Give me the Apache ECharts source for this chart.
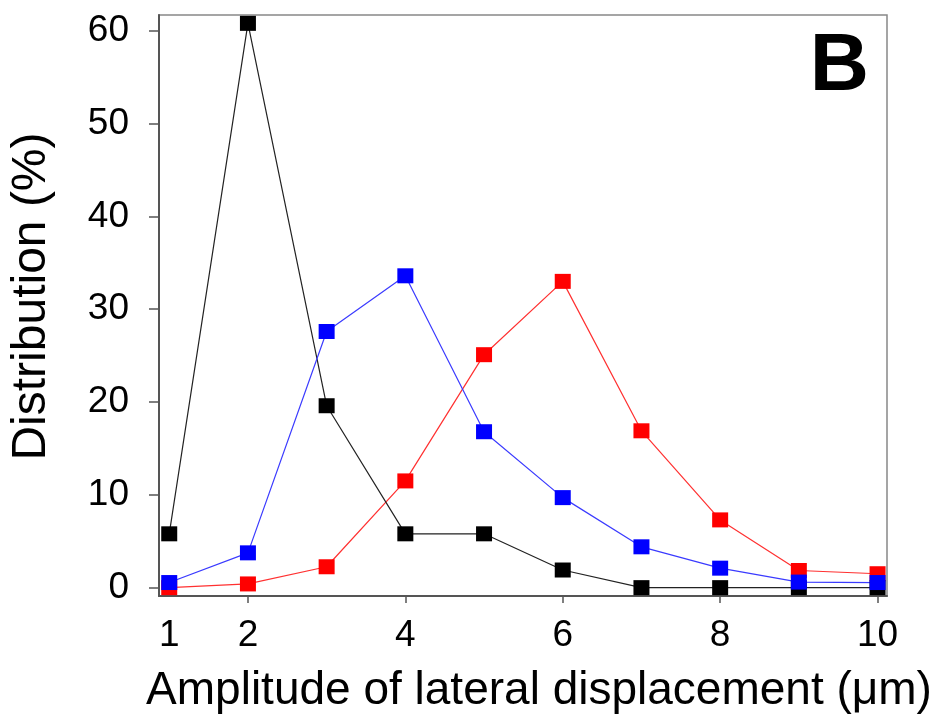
<!DOCTYPE html>
<html>
<head>
<meta charset="utf-8">
<script src="https://cdn.jsdelivr.net/npm/echarts@6/dist/echarts.min.js"></script>
<style>
html,body{margin:0;padding:0;background:#fff;}
#chart{width:938px;height:719px;}
</style>
</head>
<body>
<div id="chart"></div>
<script>
const amplitudes = [1, 2, 3, 4, 5, 6, 7, 8, 9, 10];
const blackValues = [5.8, 60.8, 19.6, 5.8, 5.8, 1.9, 0, 0, 0, 0];
const blueValues = [0.55, 3.75, 27.6, 33.6, 16.8, 9.7, 4.4, 2.1, 0.6, 0.55];
const redValues = [0, 0.4, 2.25, 11.5, 25.1, 33.0, 16.9, 7.3, 1.85, 1.5];
const xTickLabels = [1, 2, 4, 6, 8, 10];
const xTickMarks = [2, 4, 6, 8, 10];
const yTickLabels = [0, 10, 20, 30, 40, 50, 60];

const FONT = '"Liberation Sans", Arial, sans-serif';
const pairs = vals => amplitudes.map((x, i) => [x, vals[i]]);

function lineSeries(name, vals, color, lineColor) {
  return {
    name: name,
    type: 'line',
    data: pairs(vals),
    symbol: 'rect',
    symbolSize: [16, 15],
    clip: false,
    lineStyle: { color: lineColor, width: 1.2 },
    itemStyle: { color: color },
    emphasis: { disabled: true }
  };
}

const chart = echarts.init(document.getElementById('chart'), null, { renderer: 'canvas' });
chart.setOption({
  animation: false,
  backgroundColor: '#fff',
  grid: {
    left: 157, right: 51, top: 15, bottom: 119,
    show: true, borderColor: '#888', borderWidth: 1.5, backgroundColor: 'transparent'
  },
  xAxis: {
    type: 'value',
    min: 0.87, max: 10.12,
    name: 'Amplitude of lateral displacement (\u03bcm)',
    nameLocation: 'middle',
    nameGap: 72,
    nameTextStyle: { fontFamily: FONT, fontSize: 46, color: '#000', padding: [0, 0, 0, 32] },
    axisLine: { show: true, onZero: false, lineStyle: { color: '#555', width: 2 } },
    axisTick: { show: true, length: 7, customValues: xTickMarks, lineStyle: { color: '#555', width: 1.5 } },
    axisLabel: { customValues: xTickLabels, fontFamily: FONT, fontSize: 37, color: '#000', margin: 21 },
    splitLine: { show: false }
  },
  yAxis: {
    type: 'value',
    min: -0.9, max: 61.7,
    name: 'Distribution (%)',
    nameLocation: 'middle',
    nameGap: 103,
    nameTextStyle: { fontFamily: FONT, fontSize: 48, color: '#000', padding: [0, 0, 0, 18] },
    axisLine: { show: true, onZero: false, lineStyle: { color: '#555', width: 2 } },
    axisTick: { show: true, length: 10, customValues: yTickLabels, lineStyle: { color: '#555', width: 1.5 } },
    axisLabel: { customValues: yTickLabels, fontFamily: FONT, fontSize: 37, color: '#000', margin: 30 },
    splitLine: { show: false }
  },
  graphic: [{
    type: 'text',
    right: 69, top: 26,
    style: { text: 'B', fontFamily: FONT, fontWeight: 'bold', fontSize: 82, fill: '#000' }
  }],
  series: [
    lineSeries('red', redValues, '#ff0000', '#ff3030'),
    lineSeries('black', blackValues, '#000000', '#222222'),
    lineSeries('blue', blueValues, '#0000ff', '#3a3aff')
  ]
});
</script>
</body>
</html>
